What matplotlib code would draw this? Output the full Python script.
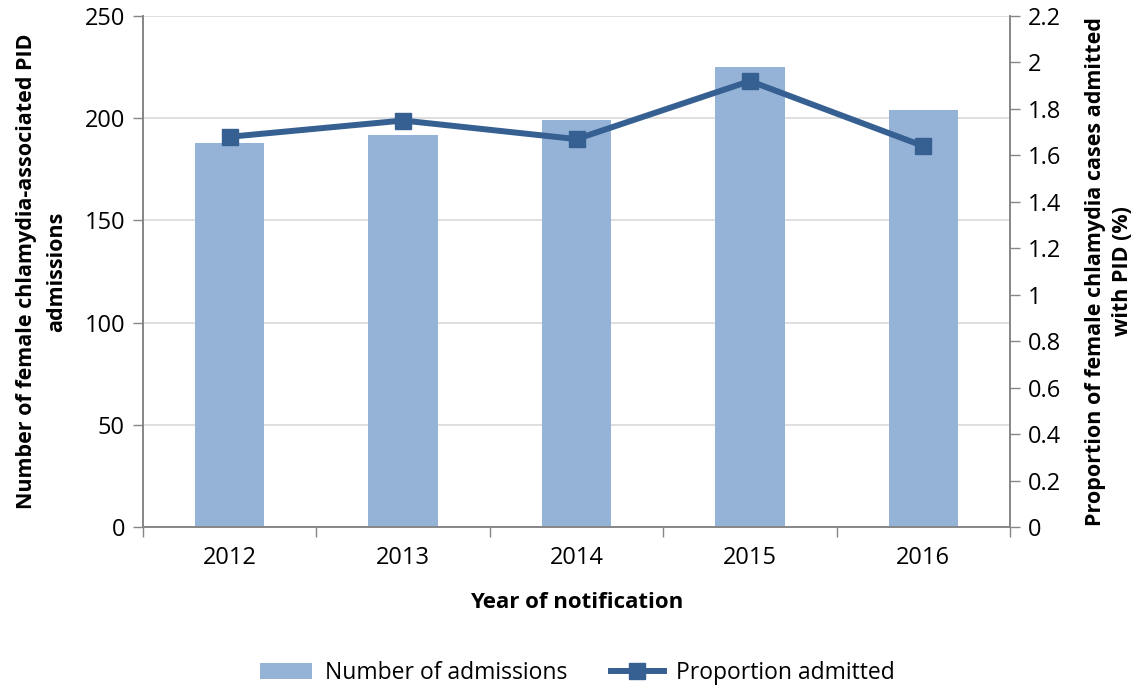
import numpy as np
import matplotlib
matplotlib.use('Agg')
from matplotlib import pyplot as plt
from matplotlib.ticker import FuncFormatter, FixedLocator

#data
years = ['2012', '2013', '2014', '2015', '2016']
admissions = [188, 192, 199, 225, 204]
proportion = [1.68, 1.75, 1.67, 1.92, 1.64]

plt.rcParams['font.family'] = ['Open Sans', 'DejaVu Sans']
plt.rcParams['font.size'] = 16

bar_col = '#95b3d7'
line_col = '#376092'
axis_col = '#868686'

fig = plt.figure(figsize=(11.43, 6.89), dpi=100)
ax = fig.add_axes([143/1143, 1 - 527/689, (1010 - 143)/1143, (527 - 16)/689])
ax2 = ax.twinx()

x = np.arange(len(years))
ax.bar(x, admissions, width=0.4, color=bar_col, zorder=2, label='Number of admissions')
ax2.plot(x, proportion, color=line_col, lw=4.3, marker='s', ms=12,
         zorder=3, label='Proportion admitted')

ax.set_xlim(-0.5, len(years) - 0.5)
ax.set_ylim(0, 250)
ax.set_yticks(np.arange(0, 251, 50))
ax2.set_ylim(0, 2.2)
ax2.set_yticks(np.arange(0, 2.21, 0.2))
ax2.yaxis.set_major_formatter(FuncFormatter(lambda v, p: f'{v:g}'))

#gridlines from the left axis
ax.grid(axis='y', color='#d9d9d9', lw=1.2, zorder=0)
ax.set_axisbelow(True)

#category ticks between years, labels centred
ax.set_xticks(x)
ax.set_xticklabels(years)
ax.tick_params(axis='x', length=0, pad=14, labelsize=17)
ax.xaxis.set_minor_locator(FixedLocator(np.arange(-0.5, len(years), 1)))
ax.tick_params(axis='x', which='minor', length=7, color=axis_col, width=1)

ax.tick_params(axis='y', length=7, color=axis_col, width=1, pad=6, labelsize=17)
ax2.tick_params(axis='y', length=7, color=axis_col, width=1, pad=6, labelsize=17)

for a in (ax, ax2):
    a.spines['top'].set_visible(False)
    for s in ('left', 'right', 'bottom'):
        a.spines[s].set_color(axis_col)
        a.spines[s].set_linewidth(1.2)

ax.set_xlabel('Year of notification', fontweight='bold', fontsize=16)
ax.xaxis.set_label_coords(0.5, -0.128)
ax.set_ylabel('Number of female chlamydia-associated PID\nadmissions',
              fontweight='bold', fontsize=15.5, linespacing=1.6)
ax.yaxis.set_label_coords(-0.087, 0.5)
ax2.set_ylabel('Proportion of female chlamydia cases admitted\nwith PID (%)',
               fontweight='bold', fontsize=15.5, linespacing=1.4)
ax2.yaxis.set_label_coords(1.086, 0.5)

h1, l1 = ax.get_legend_handles_labels()
h2, l2 = ax2.get_legend_handles_labels()
fig.legend(h1 + h2, l1 + l2, loc='center', bbox_to_anchor=(0.505, 1 - 673/689),
           ncol=2, frameon=False, handlelength=2.3, handletextpad=0.55,
           columnspacing=1.9, fontsize=16.5)

fig.savefig('out.png', dpi=100)
